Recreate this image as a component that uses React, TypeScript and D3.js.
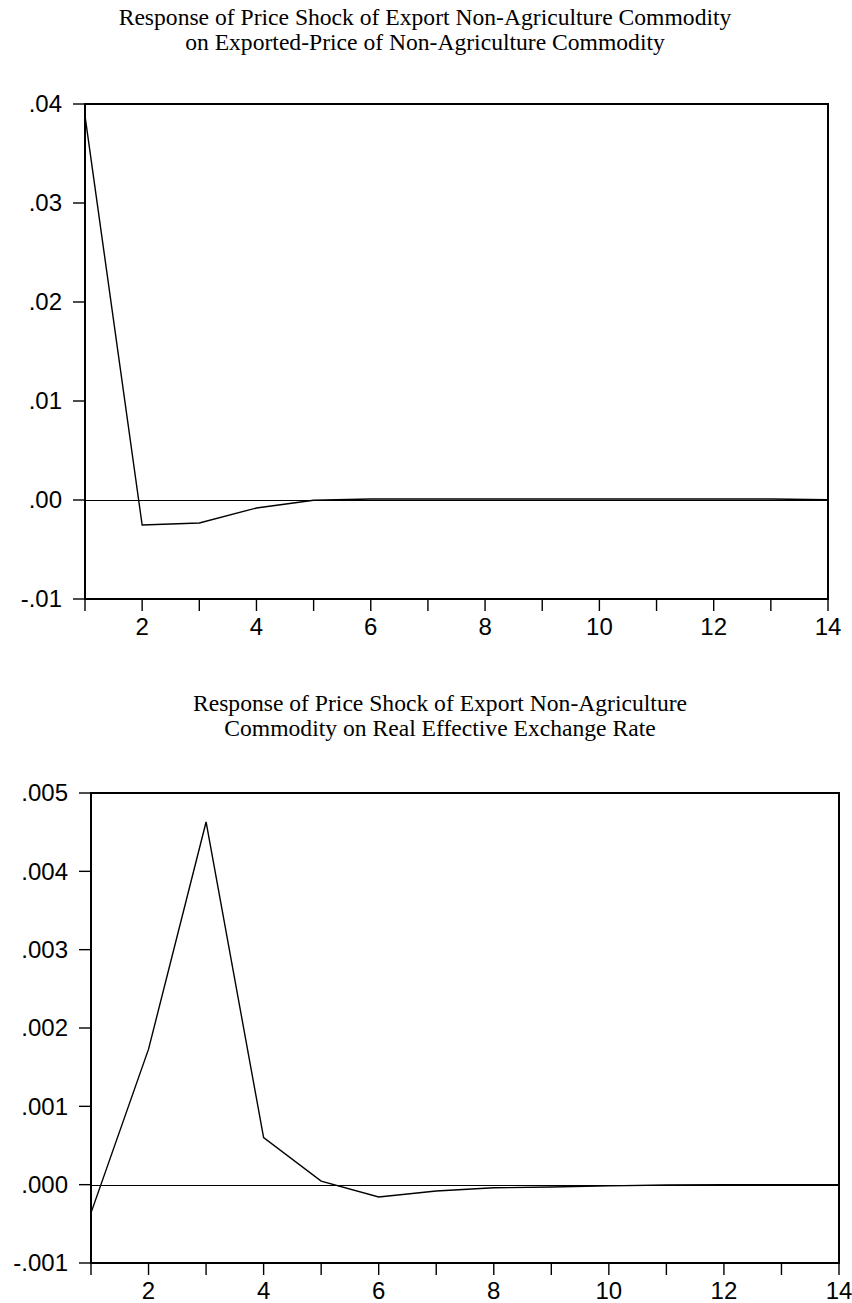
import React from "react";
import * as d3 from "d3";

const periods = [1, 2, 3, 4, 5, 6, 7, 8, 9, 10, 11, 12, 13, 14];
const responseTop = [0.0388, -0.00253, -0.00232, -0.00081, -0.00003, 0.0001, 0.0001, 0.0001, 0.0001, 0.0001, 0.0001, 0.0001, 0.0001, 0.00002];
const responseBottom = [-0.00036, 0.00173, 0.00463, 0.0006, 0.000045, -0.000157, -0.00008, -0.00004, -0.00003, -0.000015, -0.000005, 0.0, 0.0, 0.0];
const yTicksTop = [-0.01, 0.0, 0.01, 0.02, 0.03, 0.04];
const yTickLabelsTop = ["-.01", ".00", ".01", ".02", ".03", ".04"];
const yTicksBottom = [-0.001, 0.0, 0.001, 0.002, 0.003, 0.004, 0.005];
const yTickLabelsBottom = ["-.001", ".000", ".001", ".002", ".003", ".004", ".005"];
const xTickLabels = ["2", "4", "6", "8", "10", "12", "14"];
const titleTop = ["Response of Price Shock of Export Non-Agriculture Commodity", "on Exported-Price of Non-Agriculture Commodity"];
const titleBottom = ["Response of Price Shock of Export Non-Agriculture", "Commodity on Real Effective Exchange Rate"];

type PanelProps = {
  data: number[];
  yTicks: number[];
  yLabels: string[];
  yDomain: [number, number];
  left: number; right: number; top: number; bottom: number;
  title: string[];
  titleX: number;
  titleY: number;
};

function Panel(p: PanelProps) {
  const x = d3.scaleLinear().domain([1, 14]).range([p.left, p.right]);
  const y = d3.scaleLinear().domain(p.yDomain).range([p.bottom, p.top]);
  const line = d3.line<number>().x((_, i) => x(periods[i])).y((d) => y(d));
  const labelFont = "'Liberation Sans', Arial, sans-serif";
  const y0 = Math.round(y(0)) + 0.5;
  return (
    <g>
      {p.title.map((t, i) => (
        <text key={i} x={p.titleX} y={p.titleY + i * 24.5} textAnchor="middle"
          fontFamily="'Liberation Serif', 'Times New Roman', serif" fontSize={23.6} fill="#000">{t}</text>
      ))}
      {/* zero line */}
      <line x1={p.left} x2={p.right} y1={y0} y2={y0} stroke="#000" strokeWidth={1} />
      {/* data line */}
      <path d={line(p.data) || ""} fill="none" stroke="#000" strokeWidth={1.4} strokeLinejoin="miter" />
      {/* frame */}
      <rect x={p.left} y={p.top} width={p.right - p.left} height={p.bottom - p.top} fill="none" stroke="#000" strokeWidth={2} />
      {/* y ticks */}
      {p.yTicks.map((v, i) => (
        <g key={i}>
          <line x1={p.left - 12} x2={p.left} y1={y(v)} y2={y(v)} stroke="#000" strokeWidth={1.4} />
          <text x={p.left - 23} y={y(v)} dy="0.35em" textAnchor="end" fontFamily={labelFont} fontSize={24} fill="#000">{p.yLabels[i]}</text>
        </g>
      ))}
      {/* x ticks */}
      {periods.map((v) => (
        <line key={v} x1={x(v)} x2={x(v)} y1={p.bottom} y2={p.bottom + 12} stroke="#000" strokeWidth={1.4} />
      ))}
      {xTickLabels.map((s) => (
        <text key={s} x={x(+s)} y={p.bottom + 36} textAnchor="middle" fontFamily={labelFont} fontSize={24} fill="#000">{s}</text>
      ))}
    </g>
  );
}

export default function App() {
  return (
    <svg width={852} height={1303} style={{ position: "absolute", left: 0, top: 0, background: "#fff" }}>
      <rect x={0} y={0} width={852} height={1303} fill="#fff" />
      <Panel data={responseTop} yTicks={yTicksTop} yLabels={yTickLabelsTop} yDomain={[-0.01, 0.04]}
        left={85} right={828} top={104} bottom={599} title={titleTop} titleX={425} titleY={25} />
      <Panel data={responseBottom} yTicks={yTicksBottom} yLabels={yTickLabelsBottom} yDomain={[-0.001, 0.005]}
        left={91} right={839} top={793} bottom={1263} title={titleBottom} titleX={440} titleY={711} />
    </svg>
  );
}
